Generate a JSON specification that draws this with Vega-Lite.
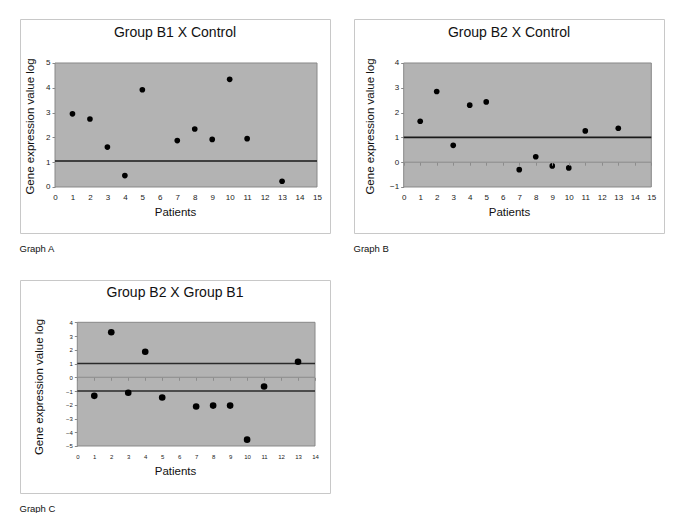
{
  "$schema": "https://vega.github.io/schema/vega-lite/v6.json",
  "background": "white",
  "padding": {"left": 19, "top": 18, "right": 0, "bottom": 0},
  "datasets": {
    "A": [
      {"patient": 1, "value": 2.95}, {"patient": 2, "value": 2.74}, {"patient": 3, "value": 1.61},
      {"patient": 4, "value": 0.46}, {"patient": 5, "value": 3.92}, {"patient": 7, "value": 1.87},
      {"patient": 8, "value": 2.34}, {"patient": 9, "value": 1.92}, {"patient": 10, "value": 4.34},
      {"patient": 11, "value": 1.95}, {"patient": 13, "value": 0.23}
    ],
    "B": [
      {"patient": 1, "value": 1.65}, {"patient": 2, "value": 2.85}, {"patient": 3, "value": 0.68},
      {"patient": 4, "value": 2.30}, {"patient": 5, "value": 2.43}, {"patient": 7, "value": -0.30},
      {"patient": 8, "value": 0.22}, {"patient": 9, "value": -0.15}, {"patient": 10, "value": -0.23},
      {"patient": 11, "value": 1.26}, {"patient": 13, "value": 1.37}
    ],
    "C": [
      {"patient": 1, "value": -1.35}, {"patient": 2, "value": 3.28}, {"patient": 3, "value": -1.13},
      {"patient": 4, "value": 1.86}, {"patient": 5, "value": -1.47}, {"patient": 7, "value": -2.13},
      {"patient": 8, "value": -2.06}, {"patient": 9, "value": -2.06}, {"patient": 10, "value": -4.54},
      {"patient": 11, "value": -0.67}, {"patient": 13, "value": 1.13}
    ]
  },
  "spacing": 26,
  "vconcat": [
    {
      "spacing": 22,
      "hconcat": [
        {
          "title": {"text": "Graph A", "orient": "bottom", "anchor": "start", "fontSize": 9.5, "offset": 10},
          "vconcat": [
            {
              "width": 310, "height": 214,
              "title": {"text": "Group B1 X Control", "fontSize": 14, "offset": -21, "anchor": "middle"},
              "resolve": {"axis": {"x": "independent", "y": "independent"}},
              "layer": [
                {
                  "data": {"values": [{}]},
                  "mark": {"type": "rect", "fill": "#b3b3b3", "stroke": "#888888", "strokeWidth": 1},
                  "encoding": {
                    "x": {"datum": 0, "type": "quantitative", "scale": {"domain": [-2.004, 15.744], "nice": false, "zero": false}, "axis": null},
                    "x2": {"datum": 15},
                    "y": {"datum": 0, "type": "quantitative", "scale": {"domain": [-1.855, 6.774], "nice": false, "zero": false}, "axis": null},
                    "y2": {"datum": 5}
                  }
                },
                {
                  "data": {"values": [{}]},
                  "mark": {"type": "rule", "color": "#1a1a1a", "strokeWidth": 1.6},
                  "encoding": {
                    "x": {"datum": 0, "type": "quantitative", "scale": {"domain": [-2.004, 15.744], "nice": false, "zero": false}, "axis": null},
                    "x2": {"datum": 15},
                    "y": {"datum": 1.05, "type": "quantitative", "scale": {"domain": [-1.855, 6.774], "nice": false, "zero": false}, "axis": null}
                  }
                },
                {
                  "data": {"name": "A"},
                  "mark": {"type": "circle", "size": 32, "color": "black", "opacity": 1},
                  "encoding": {
                    "x": {"field": "patient", "type": "quantitative", "scale": {"domain": [-2.004, 15.744], "nice": false, "zero": false},
                      "axis": {"orient": "bottom", "offset": -46, "values": [0,1,2,3,4,5,6,7,8,9,10,11,12,13,14,15], "ticks": false, "labelPadding": 6.5, "labelFontSize": 8, "title": "Patients", "titleFontSize": 11.5, "titlePadding": 5}},
                    "y": {"field": "value", "type": "quantitative", "scale": {"domain": [-1.855, 6.774], "nice": false, "zero": false},
                      "axis": {"orient": "left", "offset": -35, "values": [0,1,2,3,4,5], "ticks": true, "tickSize": 3, "tickColor": "#888888", "labelPadding": 2, "labelFontSize": 8, "title": "Gene expression value log", "titleFontSize": 11.5, "titlePadding": 10}}
                  }
                }
              ]
            }
          ]
        },
        {
          "title": {"text": "Graph B", "orient": "bottom", "anchor": "start", "fontSize": 9.5, "offset": 10},
          "vconcat": [
            {
              "width": 310, "height": 214,
              "title": {"text": "Group B2 X Control", "fontSize": 14, "offset": -21, "anchor": "middle"},
              "resolve": {"axis": {"x": "independent", "y": "independent"}},
              "layer": [
                {
                  "data": {"values": [{}]},
                  "mark": {"type": "rect", "fill": "#b3b3b3", "stroke": "#888888", "strokeWidth": 1},
                  "encoding": {
                    "x": {"datum": 0, "type": "quantitative", "scale": {"domain": [-3.010, 15.769], "nice": false, "zero": false}, "axis": null},
                    "x2": {"datum": 15},
                    "y": {"datum": -1, "type": "quantitative", "scale": {"domain": [-2.855, 5.774], "nice": false, "zero": false}, "axis": null},
                    "y2": {"datum": 4}
                  }
                },
                {
                  "data": {"values": [{}]},
                  "mark": {"type": "rule", "color": "#8c8c8c", "strokeWidth": 1},
                  "encoding": {
                    "x": {"datum": 0, "type": "quantitative", "scale": {"domain": [-3.010, 15.769], "nice": false, "zero": false},
                      "axis": {"orient": "bottom", "offset": -70.8, "zindex": 1, "values": [0,1,2,3,4,5,6,7,8,9,10,11,12,13,14,15], "labels": false, "ticks": true, "tickSize": 3, "tickColor": "#8c8c8c", "title": null}},
                    "x2": {"datum": 15},
                    "y": {"datum": 0, "type": "quantitative", "scale": {"domain": [-2.855, 5.774], "nice": false, "zero": false}, "axis": null}
                  }
                },
                {
                  "data": {"values": [{}]},
                  "mark": {"type": "rule", "color": "#1a1a1a", "strokeWidth": 1.6},
                  "encoding": {
                    "x": {"datum": 0, "type": "quantitative", "scale": {"domain": [-3.010, 15.769], "nice": false, "zero": false}, "axis": null},
                    "x2": {"datum": 15},
                    "y": {"datum": 1, "type": "quantitative", "scale": {"domain": [-2.855, 5.774], "nice": false, "zero": false}, "axis": null}
                  }
                },
                {
                  "data": {"name": "B"},
                  "mark": {"type": "circle", "size": 32, "color": "black", "opacity": 1},
                  "encoding": {
                    "x": {"field": "patient", "type": "quantitative", "scale": {"domain": [-3.010, 15.769], "nice": false, "zero": false},
                      "axis": {"orient": "bottom", "offset": -46, "values": [0,1,2,3,4,5,6,7,8,9,10,11,12,13,14,15], "ticks": false, "labelPadding": 6.5, "labelFontSize": 8, "title": "Patients", "titleFontSize": 11.5, "titlePadding": 5}},
                    "y": {"field": "value", "type": "quantitative", "scale": {"domain": [-2.855, 5.774], "nice": false, "zero": false},
                      "axis": {"orient": "left", "offset": -49.7, "values": [-1,0,1,2,3,4], "ticks": true, "tickSize": 3, "tickColor": "#888888", "labelPadding": 2, "labelFontSize": 8, "title": "Gene expression value log", "titleFontSize": 11.5, "titlePadding": 14}}
                  }
                }
              ]
            }
          ]
        }
      ]
    },
    {
      "title": {"text": "Graph C", "orient": "bottom", "anchor": "start", "fontSize": 9.5, "offset": 10},
      "vconcat": [
        {
          "width": 310, "height": 213,
          "title": {"text": "Group B2 X Group B1", "fontSize": 14, "offset": -20, "anchor": "middle"},
          "resolve": {"axis": {"x": "independent", "y": "independent"}},
          "layer": [
            {
              "data": {"values": [{}]},
              "mark": {"type": "rect", "fill": "#b3b3b3", "stroke": "#888888", "strokeWidth": 1},
              "encoding": {
                "x": {"datum": 0, "type": "quantitative", "scale": {"domain": [-3.375, 14.883], "nice": false, "zero": false}, "axis": null},
                "x2": {"datum": 14},
                "y": {"datum": -5, "type": "quantitative", "scale": {"domain": [-8.421, 7.079], "nice": false, "zero": false}, "axis": null},
                "y2": {"datum": 4}
              }
            },
            {
              "data": {"values": [{}]},
              "mark": {"type": "rule", "color": "#8c8c8c", "strokeWidth": 1},
              "encoding": {
                "x": {"datum": 0, "type": "quantitative", "scale": {"domain": [-3.375, 14.883], "nice": false, "zero": false},
                  "axis": {"orient": "bottom", "offset": -115.7, "zindex": 1, "values": [0,1,2,3,4,5,6,7,8,9,10,11,12,13,14], "labels": false, "ticks": true, "tickSize": 3, "tickColor": "#8c8c8c", "title": null}},
                "x2": {"datum": 14},
                "y": {"datum": 0, "type": "quantitative", "scale": {"domain": [-8.421, 7.079], "nice": false, "zero": false}, "axis": null}
              }
            },
            {
              "data": {"values": [{"level": 1}, {"level": -1}]},
              "mark": {"type": "rule", "color": "#2a2a2a", "strokeWidth": 1.4},
              "encoding": {
                "x": {"datum": 0, "type": "quantitative", "scale": {"domain": [-3.375, 14.883], "nice": false, "zero": false}, "axis": null},
                "x2": {"datum": 14},
                "y": {"field": "level", "type": "quantitative", "scale": {"domain": [-8.421, 7.079], "nice": false, "zero": false}, "axis": null}
              }
            },
            {
              "data": {"name": "C"},
              "mark": {"type": "circle", "size": 44, "color": "black", "opacity": 1},
              "encoding": {
                "x": {"field": "patient", "type": "quantitative", "scale": {"domain": [-3.375, 14.883], "nice": false, "zero": false},
                  "axis": {"orient": "bottom", "offset": -47, "values": [0,1,2,3,4,5,6,7,8,9,10,11,12,13,14], "ticks": false, "labelPadding": 7, "labelFontSize": 6, "title": "Patients", "titleFontSize": 11.5, "titlePadding": 6}},
                "y": {"field": "value", "type": "quantitative", "scale": {"domain": [-8.421, 7.079], "nice": false, "zero": false},
                  "axis": {"orient": "left", "offset": -57.3, "values": [-5,-4,-3,-2,-1,0,1,2,3,4], "ticks": true, "tickSize": 3, "tickColor": "#888888", "labelPadding": 2, "labelFontSize": 6, "title": "Gene expression value log", "titleFontSize": 11.5, "titlePadding": 21}}
              }
            }
          ]
        }
      ]
    }
  ],
  "config": {
    "view": {"stroke": "#c8c8c8", "strokeWidth": 1},
    "axis": {"labelFont": "Liberation Sans", "titleFont": "Liberation Sans", "labelColor": "#222222", "titleColor": "#111111", "titleFontWeight": "normal", "grid": false, "domain": false},
    "title": {"font": "Liberation Sans", "fontWeight": "normal", "color": "#111111"}
  }
}
